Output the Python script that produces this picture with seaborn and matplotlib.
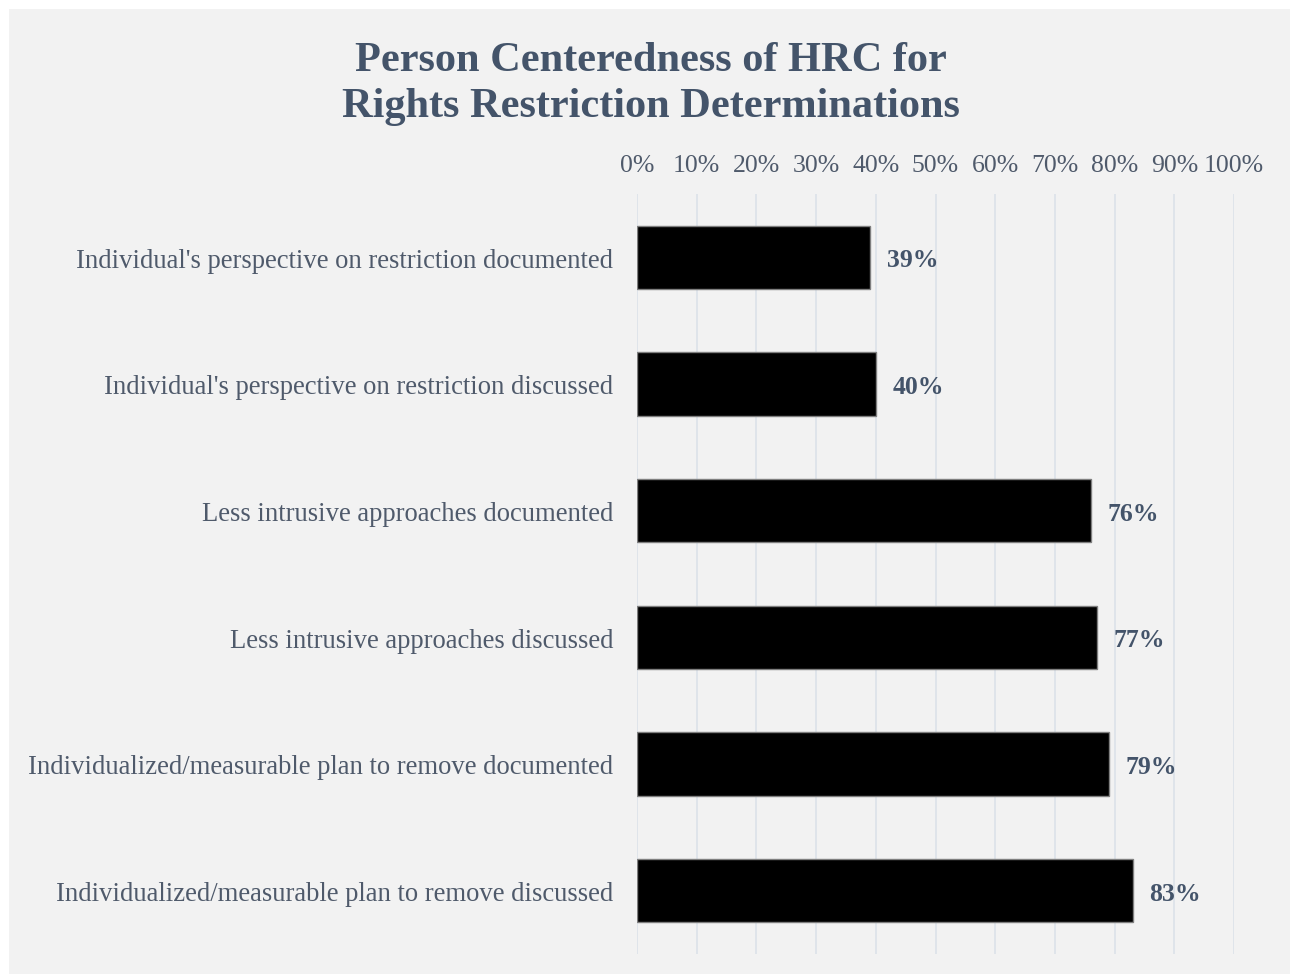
import matplotlib
matplotlib.use("Agg")
import matplotlib.pyplot as plt
from matplotlib.patches import Rectangle
from matplotlib.ticker import PercentFormatter
import seaborn as sns
import pandas as pd

categories = [
    "Individual's perspective on restriction documented",
    "Individual's perspective on restriction discussed",
    "Less intrusive approaches documented",
    "Less intrusive approaches discussed",
    "Individualized/measurable plan to remove documented",
    "Individualized/measurable plan to remove discussed",
]
values = [39, 40, 76, 77, 79, 83]
x_ticks = [0, 10, 20, 30, 40, 50, 60, 70, 80, 90, 100]

title_text = "Person Centeredness of HRC for\nRights Restriction Determinations"

df = pd.DataFrame({"item": categories, "pct": values})

sns.set_theme(style="white")
plt.rcParams["font.family"] = ["Liberation Serif", "DejaVu Serif"]

TITLE_COLOR = "#44546a"
TEXT_COLOR = "#4f5a6b"
PANEL = "#f2f2f2"
GRID = "#dde3ea"

fig = plt.figure(figsize=(12.91, 9.78), dpi=100)
fig.patch.set_facecolor("white")
fig.patches.append(Rectangle((9 / 1291, 1 - 975 / 978), (1290 - 9) / 1291, (975 - 10) / 978,
                             transform=fig.transFigure, facecolor=PANEL, edgecolor="none", zorder=-10))

ax = fig.add_axes([637 / 1291, 1 - 955 / 978, (1234 - 637) / 1291, (955 - 195) / 978])
ax.set_facecolor("none")

sns.barplot(data=df, x="pct", y="item", orient="h", color="black", edgecolor="#7f7f7f",
            linewidth=1.0, width=0.5, saturation=1, ax=ax, zorder=3)

ax.set_xlim(0, 100)
ax.set_ylim(5.5, -0.5)
ax.set_xticks(x_ticks)
ax.xaxis.set_major_formatter(PercentFormatter(decimals=0))
ax.xaxis.tick_top()
ax.tick_params(axis="x", length=0, pad=13, labelsize=18.5, labelcolor=TEXT_COLOR)
ax.tick_params(axis="y", length=0, pad=17, labelsize=19.2, labelcolor=TEXT_COLOR)
ax.grid(axis="x", color=GRID, linewidth=1.3, zorder=0)
ax.grid(axis="y", visible=False)
ax.set_xlabel("")
ax.set_ylabel("")
for s in ax.spines.values():
    s.set_visible(False)

for i, v in enumerate(values):
    ax.text(v + 2.8, i + 0.02, f"{v}%", va="center", ha="left", fontsize=18.5,
            fontweight="bold", color=TITLE_COLOR, zorder=4)

fig.text(651 / 1291, 1 - 84 / 978, title_text, ha="center", va="center", fontsize=30.5,
         fontweight="bold", color=TITLE_COLOR, linespacing=1.3)

fig.savefig("out.png", dpi=100, facecolor=fig.get_facecolor())
